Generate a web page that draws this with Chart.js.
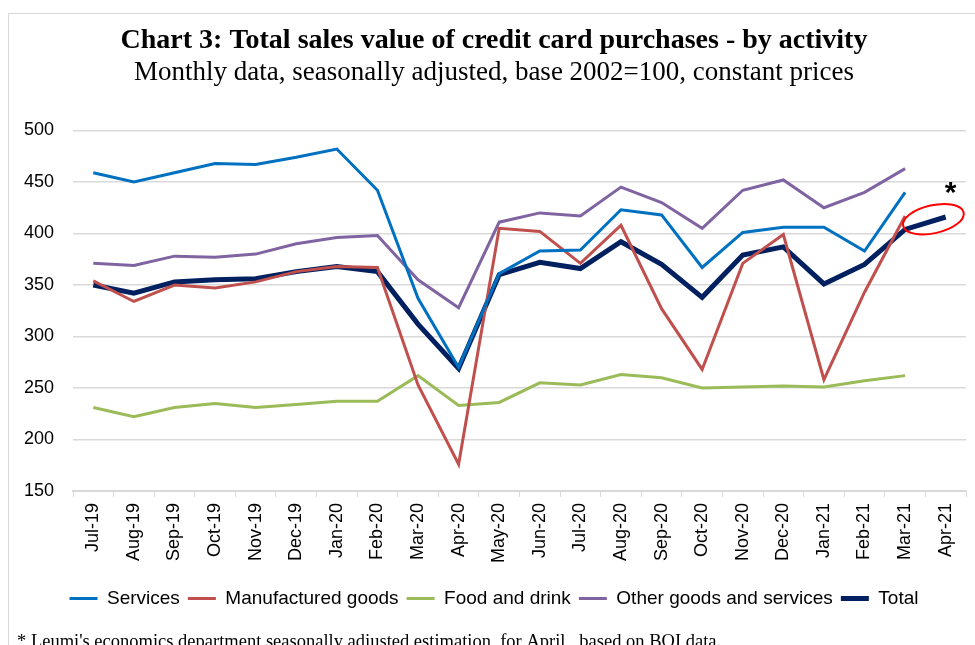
<!DOCTYPE html>
<html>
<head>
<meta charset="utf-8">
<script src="https://cdn.jsdelivr.net/npm/chart.js@4/dist/chart.umd.min.js"></script>
<style>
  body { margin: 0; background: #fff; }
  canvas { display: block; }
</style>
</head>
<body>
<canvas id="chart1" width="975" height="645"></canvas>
<script>
const months = ['Jul-19', 'Aug-19', 'Sep-19', 'Oct-19', 'Nov-19', 'Dec-19', 'Jan-20', 'Feb-20', 'Mar-20', 'Apr-20', 'May-20',
    'Jun-20', 'Jul-20', 'Aug-20', 'Sep-20', 'Oct-20', 'Nov-20', 'Dec-20', 'Jan-21', 'Feb-21', 'Mar-21', 'Apr-21'];

const services = [459, 450, 459, 468, 467, 474, 482, 442, 337, 270, 361, 383, 384, 423, 418, 367, 401, 406, 406, 383, 440, null];
const manufactured = [354, 334, 350, 347, 353, 363, 368, 367, 253, 176, 405, 402, 371, 408, 327, 268, 371, 399, 258, 343, 417, null];
const foodDrink = [231, 222, 231, 235, 231, 234, 237, 237, 262, 233, 236, 255, 253, 263, 260, 250, 251, 252, 251, 257, 262, null];
const otherGoods = [371, 369, 378, 377, 380, 390, 396, 398, 355, 328, 411, 420, 417, 445, 430, 405, 442, 452, 425, 440, 463, null];
const total = [350, 342, 353, 355, 356, 363, 368, 363, 312, 269, 360, 372, 366, 392, 370, 338, 379, 387, 351, 370, 404, 416];

const yTicks = [150, 500, 50]; // min, max, step

const footnote = "* Leumi's economics department seasonally adjusted estimation  for April , based on BOI data.";

const extras = {
    id: 'extras',
    beforeDraw(chart) {
        const c = chart.ctx;
        c.save();
        c.fillStyle = '#fff';
        c.fillRect(0, 0, chart.width, chart.height);
        c.strokeStyle = '#d9d9d9';
        c.lineWidth = 1;
        c.strokeRect(8.5, 13.5, 1000, 700);
        c.restore();
    },
    afterDatasetsDraw(chart) {
        const c = chart.ctx;
        const x = chart.scales.x, y = chart.scales.y;
        const n = total.length - 1;
        const x1 = x.getPixelForValue(n - 1), x2 = x.getPixelForValue(n);
        const y1 = y.getPixelForValue(total[n - 1]), y2 = y.getPixelForValue(total[n]);
        c.save();
        // red ring round the estimate
        c.strokeStyle = '#ff0000';
        c.lineWidth = 2;
        c.beginPath();
        c.ellipse((x1 + x2) / 2 + 8, (y1 + y2) / 2 - 4, 31, 14, -0.22, 0, Math.PI * 2);
        c.stroke();
        // asterisk
        c.fillStyle = '#000';
        c.font = 'bold 30px "Liberation Sans"';
        c.textAlign = 'center';
        c.textBaseline = 'middle';
        c.fillText('*', x2 + 5, y2 - 23);
        // footnote
        c.font = '18.5px "Liberation Serif"';
        c.textAlign = 'left';
        c.textBaseline = 'alphabetic';
        c.fillText(footnote, 17, 647);
        c.restore();
    }
};

const line = (label, data, color, width) => ({
    label: label,
    data: data,
    borderColor: color,
    backgroundColor: color,
    borderWidth: width,
    pointRadius: 0,
    tension: 0,
    spanGaps: false
});

const config = {
    type: 'line',
    data: {
        labels: months,
        datasets: [
            line('Services', services, '#0070C0', 3),
            line('Manufactured goods', manufactured, '#C0504D', 3),
            line('Food and drink', foodDrink, '#9BBB59', 3),
            line('Other goods and services', otherGoods, '#8064A2', 3),
            line('Total', total, '#002060', 5)
        ]
    },
    options: {
        responsive: false,
        animation: false,
        layout: {
            padding: { left: 22, right: 9, top: 0, bottom: 27 }
        },
        plugins: {
            title: {
                display: true,
                text: 'Chart 3: Total sales value of credit card purchases - by activity',
                color: '#000',
                font: { family: '"Liberation Serif"', size: 28, weight: 'bold', lineHeight: 1.1 },
                padding: { top: 25, bottom: 0 }
            },
            subtitle: {
                display: true,
                text: 'Monthly data, seasonally adjusted, base 2002=100, constant prices',
                color: '#000',
                font: { family: '"Liberation Serif"', size: 27, lineHeight: 1.1 },
                padding: { top: 2, bottom: 43 }
            },
            legend: {
                position: 'bottom',
                labels: {
                    usePointStyle: true,
                    pointStyle: 'line',
                    pointStyleWidth: 28,
                    color: '#000',
                    padding: 8,
                    font: { family: '"Liberation Sans Narrow", "Liberation Sans"', size: 19 }
                }
            },
            tooltip: { enabled: false }
        },
        scales: {
            x: {
                offset: true,
                afterFit: scale => { scale.height = scale.height + 12; },
                grid: {
                    display: true,
                    drawOnChartArea: false,
                    drawTicks: true,
                    tickLength: 6,
                    color: '#d9d9d9',
                    offset: true
                },
                border: { color: '#d9d9d9', width: 2 },
                ticks: {
                    maxRotation: 90,
                    minRotation: 90,
                    autoSkip: false,
                    padding: 6,
                    color: '#000',
                    font: { family: '"Liberation Sans"', size: 18 }
                }
            },
            y: {
                min: yTicks[0],
                max: yTicks[1],
                afterFit: scale => { scale.width = 51; },
                grid: { color: '#d9d9d9', lineWidth: 1.5, drawTicks: false },
                border: { display: false },
                ticks: {
                    stepSize: yTicks[2],
                    padding: 19,
                    color: '#000',
                    font: { family: '"Liberation Sans"', size: 18 }
                }
            }
        }
    },
    plugins: [extras]
};

const ctx1 = document.getElementById('chart1').getContext('2d');
const chart1 = new Chart(ctx1, config);
</script>
</body>
</html>
